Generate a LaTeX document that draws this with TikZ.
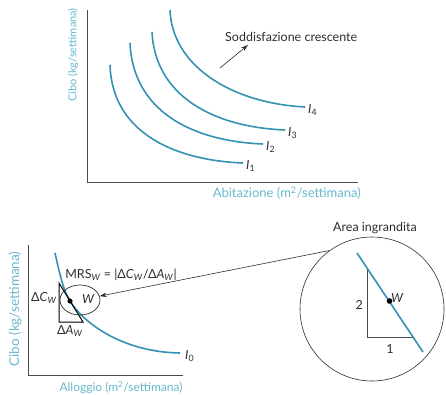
\documentclass[tikz,border=0pt]{standalone}
\usepackage{fontspec}
\setmainfont{Lato}
\usetikzlibrary{arrows.meta,shapes.geometric}

\definecolor{curveblue}{RGB}{52,146,178}
\definecolor{labelteal}{RGB}{104,184,206}
\definecolor{axisgray}{RGB}{75,75,75}
\definecolor{textgray}{RGB}{45,45,45}

\newcommand{\ilab}[1]{\textit{I}\textsubscript{#1}}
\newcommand{\subw}{\textsubscript{\textit{W}}}

\begin{document}
\begin{tikzpicture}[x=1pt,y=-1pt,
  curve/.style={curveblue,line width=1.6pt},
  axis/.style={axisgray,line width=0.9pt},
  axlabel/.style={labelteal,inner sep=0pt},
  lab/.style={textgray,inner sep=0pt,font=\fontsize{12.5}{14}\selectfont}]
\useasboundingbox (0,0) rectangle (446,394);

%%%%%%%%%%%%%%%%%%%%%%%%%%%% top panel %%%%%%%%%%%%%%%%%%%%
\coordinate (topO) at (87,182);
\coordinate (topY) at (87,10);
\coordinate (topX) at (358,182);
\draw[axis] (topY) -- (topO) -- (topX);
\node[axlabel,rotate=90,font=\fontsize{11}{12}\selectfont] (topylab) at (73,55) {Cibo (kg/settimana)};
\node[axlabel,anchor=east,font=\fontsize{13}{14}\selectfont] (topxlab) at (361,193) {Abitazione (m\textsuperscript{2}/settimana)};

\draw[curve] (110,65) .. controls (112,130) and (170,160) .. (243,163) coordinate (e1);
\draw[curve] (130,43) .. controls (133,110) and (190,141) .. (263,144) coordinate (e2);
\draw[curve] (152,32) .. controls (155,95) and (212,127) .. (285,130) coordinate (e3);
\draw[curve] (170,10) .. controls (172,65) and (230,103) .. (305,107) coordinate (e4);
\node[lab,anchor=west] (i1) at ([shift={(3,3)}]e1) {\ilab{1}};
\node[lab,anchor=west] (i2) at ([shift={(3,3)}]e2) {\ilab{2}};
\node[lab,anchor=west] (i3) at ([shift={(3,3)}]e3) {\ilab{3}};
\node[lab,anchor=west] (i4) at ([shift={(3,3)}]e4) {\ilab{4}};

\coordinate (sodA) at (220,68);
\coordinate (sodB) at (248,45);
\draw[-{Stealth[length=7pt,width=4.5pt]},textgray,line width=0.6pt] (sodA) -- (sodB);
\node[lab,anchor=west] (sod) at (225,37) {Soddisfazione crescente};

%%%%%%%%%%%%%%%%%%%%%%%%%%%% bottom left %%%%%%%%%%%%%%%%%%%%
\coordinate (botO) at (28,375);
\coordinate (botY) at (28,245);
\coordinate (botX) at (183,375);
\draw[axis] (botY) -- (botO) -- (botX);
\node[axlabel,rotate=90,font=\fontsize{13.5}{15}\selectfont] (botylab) at (15,309) {Cibo (kg/settimana)};
\node[axlabel,font=\fontsize{12}{14}\selectfont] (botxlab) at (121,388) {Alloggio (m\textsuperscript{2}/settimana)};

\coordinate (W) at (70,301);
\draw[curve] (55,253) .. controls (61,280) and (64,291) .. (W)
  .. controls (82,321) and (120,352) .. (180,353) coordinate (e0);
\node[lab,anchor=west] (i0) at ([shift={(5,3)}]e0) {\ilab{0}};

% triangle
\coordinate (tA) at (59,283);
\coordinate (tB) at (59,322);
\coordinate (tC) at (83,322);
\draw[black,line width=1pt] (tA) -- (tB) -- (tC) -- cycle;
\fill (W) circle (2.6);

\node[draw,textgray,ellipse,line width=0.7pt,minimum width=40,minimum height=30,inner sep=0pt] (zoom) at (80,300) {};
\node[lab,anchor=west] (wlab) at (82,299) {\textit{W}};
\node[lab,anchor=east] (dc) at (57,298) {Δ\textit{C}\subw};
\node[lab] (da) at (70,331) {Δ\textit{A}\subw};
\node[lab] (mrs) at (121,275) {MRS\subw{} = |Δ\textit{C}\subw/Δ\textit{A}\subw|};

%%%%%%%%%%%%%%%%%%%%%%%%%%%% enlarged area %%%%%%%%%%%%%%%%%%%%
\node[draw,textgray,circle,line width=0.6pt,minimum size=144,inner sep=0pt] (big) at (372,309) {};
\node[lab] (area) at (375,228) {Area ingrandita};
\draw[-{Stealth[length=7pt,width=4.5pt]},textgray,line width=0.6pt] (big.126) -- (zoom);

\coordinate (bA) at (357,253);
\coordinate (bB) at (423,352);
\draw[curve] (bA) -- (bB);
\coordinate (bW) at (389.5,301);
\coordinate (bT) at (367,270);
\coordinate (bR) at (367,337);
\coordinate (bS) at (413,337);
\draw[axisgray,line width=1pt] (bT) -- (bR) -- (bS);
\fill (bW) circle (2.8);
\node[lab,anchor=west] (bwlab) at (391,298) {\textit{W}};
\node[lab,anchor=east] (two) at (363,305) {2};
\node[lab] (one) at (390,349) {1};

\end{tikzpicture}
\end{document}
